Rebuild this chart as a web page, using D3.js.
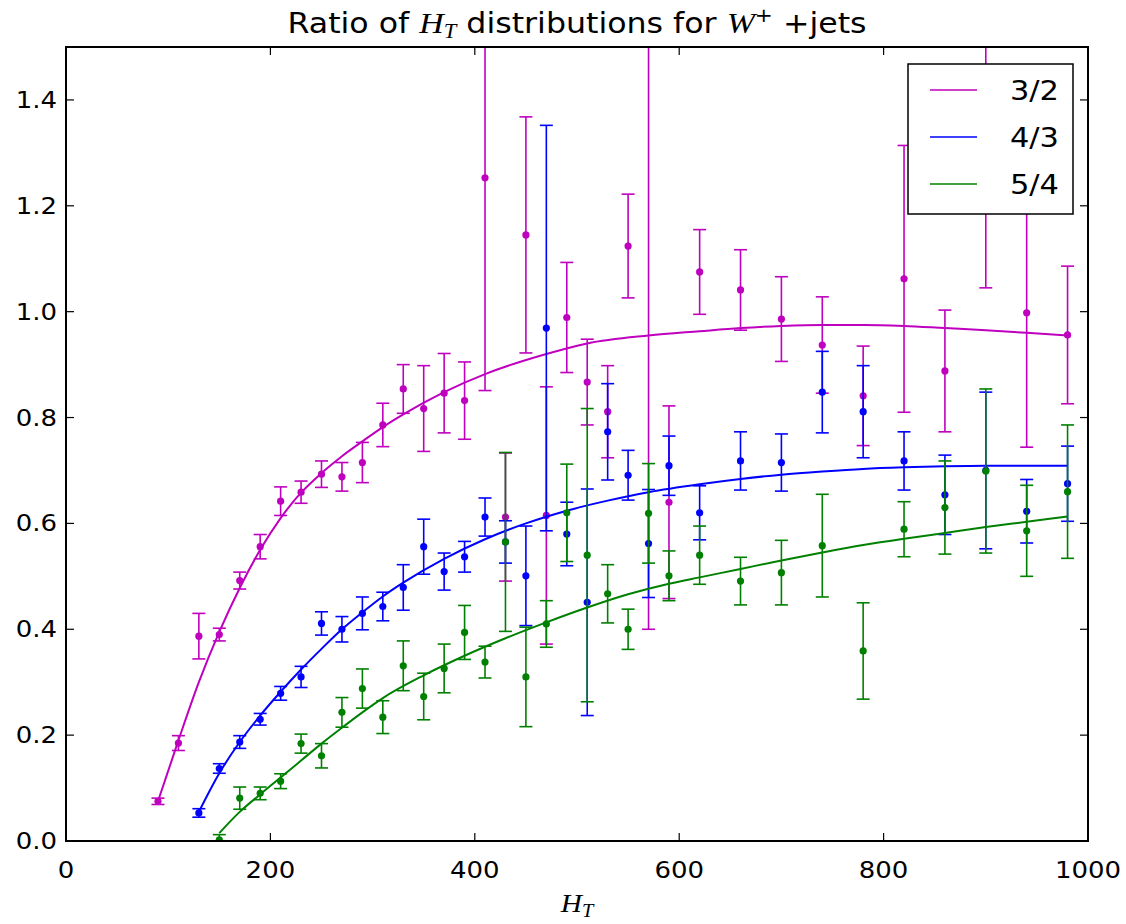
<!DOCTYPE html>
<html lang="en">
<head>
    <meta charset="UTF-8">
    <title>Ratio of H_T distributions for W+ +jets</title>
    <script src="https://d3js.org/d3.v7.min.js"></script>
    <style>
        body {
            margin: 0;
            background: #fff;
        }
        text {
            font-family: 'DejaVu Sans', sans-serif;
            fill: #000;
        }
        .math {
            font-family: 'Liberation Serif', serif;
            font-style: italic;
        }
    </style>
</head>
<body>
    <div id="chart"></div>
    <script>
        // ratio 3/2
        const x32 = [90, 110, 130, 150, 170, 190, 210, 230, 250, 270, 290, 310, 330, 350, 370, 390, 410, 430, 450, 470,
                     490, 510, 530, 550, 570, 590, 620, 660, 700, 740, 780, 820, 860, 900, 940, 980];
        const y32 = [0.075, 0.185, 0.387, 0.390, 0.492, 0.556, 0.642, 0.659, 0.693, 0.688, 0.715, 0.786, 0.854, 0.817, 0.846, 0.832, 1.253, 0.612, 1.145, 0.615,
                     0.989, 0.867, 0.811, 1.124, 1.700, 0.640, 1.075, 1.041, 0.986, 0.937, 0.841, 1.062, 0.888, 1.280, 0.998, 0.956];
        const e32 = [0.006, 0.014, 0.043, 0.012, 0.016, 0.023, 0.027, 0.021, 0.025, 0.027, 0.038, 0.041, 0.046, 0.081, 0.075, 0.073, 0.402, 0.121, 0.223, 0.243,
                     0.104, 0.081, 0.087, 0.098, 1.300, 0.182, 0.080, 0.076, 0.080, 0.091, 0.094, 0.252, 0.115, 0.235, 0.254, 0.130];

        // ratio 4/3
        const x43 = [130, 150, 170, 190, 210, 230, 250, 270, 290, 310, 330, 350, 370, 390, 410, 430, 450, 470,
                     490, 510, 530, 550, 570, 590, 620, 660, 700, 740, 780, 820, 860, 900, 940, 980];
        const y43 = [0.053, 0.137, 0.187, 0.230, 0.279, 0.310, 0.411, 0.400, 0.430, 0.443, 0.479, 0.556, 0.509, 0.537, 0.612, 0.565, 0.501, 0.969,
                     0.580, 0.451, 0.773, 0.691, 0.562, 0.709, 0.620, 0.718, 0.715, 0.848, 0.811, 0.718, 0.654, 0.700, 0.623, 0.675];
        const e43 = [0.008, 0.009, 0.012, 0.011, 0.013, 0.020, 0.022, 0.024, 0.031, 0.027, 0.043, 0.052, 0.035, 0.029, 0.036, 0.040, 0.094, 0.383,
                     0.060, 0.214, 0.091, 0.047, 0.102, 0.056, 0.051, 0.055, 0.054, 0.077, 0.087, 0.055, 0.075, 0.148, 0.060, 0.071];

        // ratio 5/4
        const x54 = [150, 170, 190, 210, 230, 250, 270, 290, 310, 330, 350, 370, 390, 410, 430, 450, 470,
                     490, 510, 530, 550, 570, 590, 620, 660, 700, 740, 780, 820, 860, 900, 940, 980];
        const y54 = [0.002, 0.081, 0.090, 0.113, 0.184, 0.161, 0.243, 0.288, 0.234, 0.331, 0.273, 0.326, 0.394, 0.338, 0.565, 0.310, 0.410,
                     0.620, 0.540, 0.467, 0.400, 0.619, 0.501, 0.540, 0.491, 0.507, 0.558, 0.359, 0.589, 0.630, 0.699, 0.586, 0.660];
        const e54 = [0.010, 0.021, 0.012, 0.014, 0.018, 0.023, 0.028, 0.037, 0.031, 0.047, 0.044, 0.046, 0.051, 0.030, 0.169, 0.094, 0.044,
                     0.092, 0.277, 0.055, 0.038, 0.094, 0.047, 0.055, 0.045, 0.061, 0.097, 0.091, 0.052, 0.088, 0.155, 0.086, 0.126];

        // fitted curves
        const fitX32 = [90, 110, 130, 150, 170, 190, 210, 230, 250, 270, 290, 310, 330, 370, 410, 470, 510, 570, 620, 660, 700, 740, 780, 820, 860, 900, 940, 980];
        const fitY32 = [0.075, 0.190, 0.300, 0.395, 0.478, 0.550, 0.610, 0.658, 0.695, 0.727, 0.755, 0.782, 0.806, 0.848, 0.882, 0.920, 0.940, 0.955, 0.963, 0.969, 0.973, 0.975, 0.975, 0.973, 0.969, 0.965, 0.960, 0.955];
        const fitX43 = [130, 150, 170, 190, 210, 230, 250, 270, 290, 310, 330, 370, 410, 450, 490, 530, 570, 620, 660, 700, 740, 780, 820, 860, 900, 940, 980];
        const fitY43 = [0.055, 0.128, 0.187, 0.237, 0.282, 0.324, 0.363, 0.400, 0.432, 0.462, 0.488, 0.533, 0.570, 0.600, 0.624, 0.643, 0.659, 0.674, 0.684, 0.692, 0.698, 0.703, 0.706, 0.708, 0.709, 0.709, 0.709];
        const fitX54 = [150, 170, 190, 210, 230, 250, 270, 290, 310, 350, 390, 430, 470, 510, 550, 590, 620, 660, 700, 740, 780, 820, 860, 900, 940, 980];
        const fitY54 = [0.015, 0.055, 0.088, 0.120, 0.152, 0.184, 0.214, 0.243, 0.270, 0.313, 0.350, 0.383, 0.413, 0.441, 0.466, 0.486, 0.498, 0.514, 0.530, 0.545, 0.559, 0.571, 0.582, 0.593, 0.603, 0.613];

        const xTicks = [0, 200, 400, 600, 800, 1000];
        const yTicks = [0.0, 0.2, 0.4, 0.6, 0.8, 1.0, 1.2, 1.4];

        const width = 1126;
        const height = 924;
        const margin = { top: 47, right: 38, bottom: 83, left: 66 };
        // the picture's text is a little wider than the font draws it
        const stretch = 1.13;

        const x = d3.scaleLinear().domain([0, 1000]).range([margin.left, width - margin.right]);
        const y = d3.scaleLinear().domain([0, 1.5]).range([height - margin.bottom, margin.top]);

        const svg = d3.select('#chart')
            .append('svg')
            .attr('width', width)
            .attr('height', height);

        svg.append('clipPath')
            .attr('id', 'plotClip')
            .append('rect')
            .attr('x', margin.left)
            .attr('y', margin.top)
            .attr('width', width - margin.left - margin.right)
            .attr('height', height - margin.top - margin.bottom);

        const plot = svg.append('g').attr('clip-path', 'url(#plotClip)');

        const series = [
            { name: '3/2', color: '#bf00bf', xs: x32, ys: y32, es: e32, fx: fitX32, fy: fitY32 },
            { name: '4/3', color: '#0000ff', xs: x43, ys: y43, es: e43, fx: fitX43, fy: fitY43 },
            { name: '5/4', color: '#008000', xs: x54, ys: y54, es: e54, fx: fitX54, fy: fitY54 }
        ];

        const line = d3.line()
            .x(d => x(d[0]))
            .y(d => y(d[1]))
            .curve(d3.curveMonotoneX);

        const capHalf = 6.5;

        series.forEach(s => {
            const pts = s.xs.map((v, i) => ({ x: v, y: s.ys[i], e: s.es[i] }));
            const g = plot.append('g');

            // error bars
            g.selectAll('.bar')
                .data(pts)
                .join('line')
                .attr('x1', d => x(d.x))
                .attr('x2', d => x(d.x))
                .attr('y1', d => y(d.y - d.e))
                .attr('y2', d => y(d.y + d.e))
                .attr('stroke', s.color)
                .attr('stroke-width', 1.6);

            ['lo', 'hi'].forEach(k => {
                g.selectAll('.cap-' + k)
                    .data(pts)
                    .join('line')
                    .attr('x1', d => x(d.x) - capHalf)
                    .attr('x2', d => x(d.x) + capHalf)
                    .attr('y1', d => y(k === 'lo' ? d.y - d.e : d.y + d.e))
                    .attr('y2', d => y(k === 'lo' ? d.y - d.e : d.y + d.e))
                    .attr('stroke', s.color)
                    .attr('stroke-width', 1.6);
            });

            g.selectAll('circle')
                .data(pts)
                .join('circle')
                .attr('cx', d => x(d.x))
                .attr('cy', d => y(d.y))
                .attr('r', 3.6)
                .attr('fill', s.color);

            // fit curve
            g.append('path')
                .datum(s.fx.map((v, i) => [v, s.fy[i]]))
                .attr('d', line)
                .attr('fill', 'none')
                .attr('stroke', s.color)
                .attr('stroke-width', 2);
        });

        // ticks on all four sides, pointing inward
        const tickLen = 8;
        const axes = svg.append('g').attr('stroke', '#000').attr('stroke-width', 1.2);
        xTicks.forEach(t => {
            axes.append('line').attr('x1', x(t)).attr('x2', x(t))
                .attr('y1', y(0)).attr('y2', y(0) - tickLen);
            axes.append('line').attr('x1', x(t)).attr('x2', x(t))
                .attr('y1', y(1.5)).attr('y2', y(1.5) + tickLen);
        });
        yTicks.forEach(t => {
            axes.append('line').attr('x1', x(0)).attr('x2', x(0) + tickLen)
                .attr('y1', y(t)).attr('y2', y(t));
            axes.append('line').attr('x1', x(1000)).attr('x2', x(1000) - tickLen)
                .attr('y1', y(t)).attr('y2', y(t));
        });

        svg.append('rect')
            .attr('x', margin.left)
            .attr('y', margin.top)
            .attr('width', width - margin.left - margin.right)
            .attr('height', height - margin.top - margin.bottom)
            .attr('fill', 'none')
            .attr('stroke', '#000')
            .attr('stroke-width', 2);

        function placed(px, py) {
            return `translate(${px},${py}) scale(${stretch},1)`;
        }

        svg.selectAll('.xlabel')
            .data(xTicks)
            .join('text')
            .attr('transform', d => placed(x(d), y(0) + 37))
            .attr('text-anchor', 'middle')
            .attr('font-size', 23)
            .text(d => d);

        svg.selectAll('.ylabel')
            .data(yTicks)
            .join('text')
            .attr('transform', d => placed(x(0) - 9, y(d) + 8))
            .attr('text-anchor', 'end')
            .attr('font-size', 23)
            .text(d => d.toFixed(1));

        // title with math parts
        const title = svg.append('text')
            .attr('transform', placed((x(0) + x(1000)) / 2, 33))
            .attr('text-anchor', 'middle')
            .attr('font-size', 28);
        title.append('tspan').text('Ratio of ');
        title.append('tspan').attr('class', 'math').attr('font-size', 30).text('H');
        title.append('tspan').attr('class', 'math').attr('font-size', 20).attr('dy', 5).text('T');
        title.append('tspan').attr('dy', -5).text(' distributions for ');
        title.append('tspan').attr('class', 'math').attr('font-size', 30).text('W');
        title.append('tspan').attr('font-size', 19).attr('dy', -11).text('+');
        title.append('tspan').attr('dy', 11).text(' +jets');

        const xl = svg.append('text')
            .attr('transform', placed((x(0) + x(1000)) / 2, 912))
            .attr('text-anchor', 'middle')
            .attr('class', 'math')
            .attr('font-size', 26);
        xl.append('tspan').text('H');
        xl.append('tspan').attr('font-size', 18).attr('dy', 5).text('T');

        // legend
        const legend = svg.append('g');
        legend.append('rect')
            .attr('x', 908)
            .attr('y', 64)
            .attr('width', 165)
            .attr('height', 150)
            .attr('fill', '#fff')
            .attr('stroke', '#000')
            .attr('stroke-width', 1.5);
        series.forEach((s, i) => {
            const ly = 90 + i * 47;
            legend.append('line')
                .attr('x1', 930).attr('x2', 977)
                .attr('y1', ly).attr('y2', ly)
                .attr('stroke', s.color)
                .attr('stroke-width', 1.6);
            legend.append('text')
                .attr('transform', placed(1059, ly + 10))
                .attr('text-anchor', 'end')
                .attr('font-size', 27)
                .text(s.name);
        });
    </script>
</body>
</html>
